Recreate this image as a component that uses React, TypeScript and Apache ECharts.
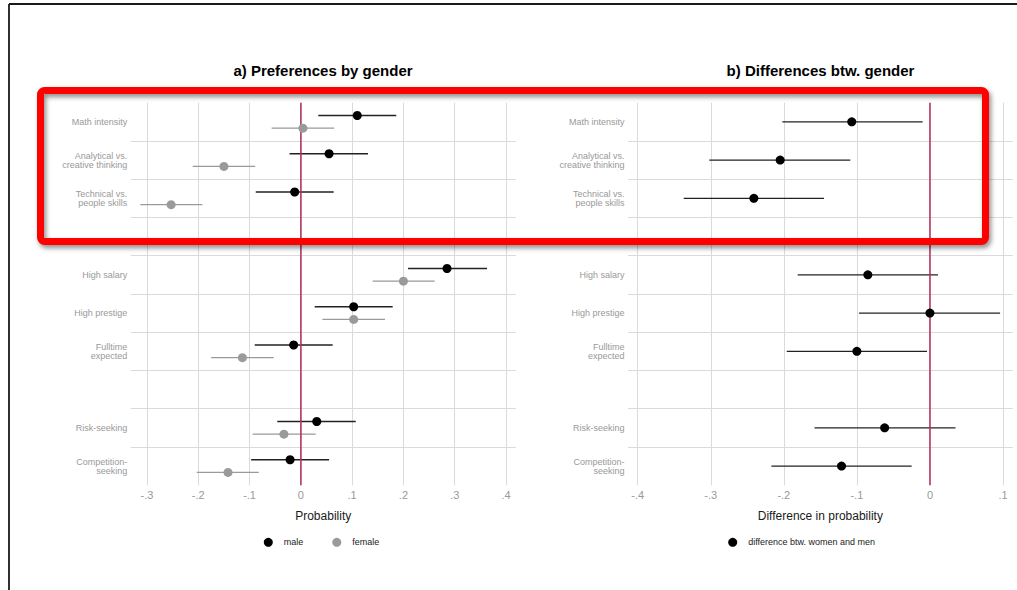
import React, { useEffect, useRef } from "react";
import * as echarts from "echarts";

const categories = [
  "Math intensity",
  "Analytical vs.\ncreative thinking",
  "Technical vs.\npeople skills",
  " ",
  "High salary",
  "High prestige",
  "Fulltime\nexpected",
  "  ",
  "Risk-seeking",
  "Competition-\nseeking",
];
const rowIndex = [0, 1, 2, 4, 5, 6, 8, 9];

const maleEst = [0.110, 0.055, -0.012, 0.285, 0.103, -0.014, 0.031, -0.021];
const maleLo = [0.034, -0.022, -0.088, 0.209, 0.027, -0.090, -0.046, -0.097];
const maleHi = [0.186, 0.131, 0.064, 0.363, 0.179, 0.062, 0.107, 0.055];

const femaleEst = [0.004, -0.150, -0.253, 0.200, 0.103, -0.114, -0.033, -0.142];
const femaleLo = [-0.057, -0.211, -0.313, 0.140, 0.042, -0.175, -0.094, -0.203];
const femaleHi = [0.065, -0.089, -0.192, 0.261, 0.164, -0.053, 0.029, -0.082];

const diffEst = [-0.107, -0.205, -0.241, -0.085, 0.000, -0.100, -0.062, -0.121];
const diffLo = [-0.202, -0.302, -0.337, -0.181, -0.097, -0.196, -0.158, -0.217];
const diffHi = [-0.010, -0.109, -0.145, 0.011, 0.096, -0.004, 0.035, -0.025];

const leftTicks = { min: -0.3, max: 0.4, interval: 0.1 };
const rightTicks = { min: -0.4, max: 0.1, interval: 0.1 };

const FONT = '"Liberation Sans", Arial, Helvetica, sans-serif';
const GRID_COLOR = "#dadada";
const LABEL_GRAY = "#999999";
const ZERO_COLOR = "#b3315d";
const MALE = "#000000";
const MALE_LINE = "#222222";
const FEMALE = "#9a9a9a";
const OFFSET = 0.165;

const fmt = (v: number) => {
  const n = Math.round(v * 10);
  if (n === 0) return "0";
  return (n < 0 ? "-" : "") + "." + Math.abs(n);
};

function ciSeries(name: string, lo: number[], hi: number[], off: number, color: string, xi: number, yi: number) {
  return {
    name,
    type: "custom",
    xAxisIndex: xi,
    yAxisIndex: yi,
    z: 2,
    silent: true,
    encode: { x: [0, 1], y: 2 },
    data: lo.map((l, i) => [l, hi[i], rowIndex[i] + 0.5 + off]),
    renderItem: (params: any, api: any) => {
      const y = api.value(2);
      const a = api.coord([api.value(0), y]);
      const b = api.coord([api.value(1), y]);
      return {
        type: "line",
        shape: { x1: a[0], y1: a[1], x2: b[0], y2: b[1] },
        style: { stroke: color, lineWidth: 1.4 },
      };
    },
  };
}

function dotSeries(name: string, est: number[], off: number, color: string, xi: number, yi: number) {
  return {
    name,
    type: "scatter",
    xAxisIndex: xi,
    yAxisIndex: yi,
    z: 4,
    silent: true,
    symbol: "circle",
    symbolSize: 9,
    itemStyle: { color, opacity: 1 },
    data: est.map((e, i) => [e, rowIndex[i] + 0.5 + off]),
  };
}

function zeroSeries(name: string, xi: number, yi: number) {
  return {
    name,
    type: "line",
    xAxisIndex: xi,
    yAxisIndex: yi,
    z: 3,
    silent: true,
    showSymbol: false,
    symbol: "none",
    lineStyle: { color: ZERO_COLOR, width: 1.5 },
    data: [
      [0, 0],
      [0, categories.length],
    ],
  };
}

const TOP = 102.7;
const HEIGHT = 382.5;

export default function App() {
  const ref = useRef<HTMLDivElement>(null);
  useEffect(() => {
    if (!ref.current) return;
    const chart = echarts.init(ref.current, undefined, { renderer: "svg" });

    const wideY = (gi: number) => ({
      type: "category",
      gridIndex: gi,
      data: categories,
      inverse: true,
      boundaryGap: true,
      axisLine: { show: false },
      axisTick: { show: false },
      axisLabel: {
        color: LABEL_GRAY,
        fontSize: 9,
        lineHeight: 9,
        fontFamily: FONT,
        margin: 3.5,
        align: "right",
      },
      splitLine: {
        show: true,
        showMinLine: false,
        showMaxLine: false,
        lineStyle: { color: GRID_COLOR, width: 1 },
      },
    });
    const wideX = (gi: number, name: string) => ({
      type: "value",
      gridIndex: gi,
      min: 0,
      max: 1,
      axisLine: { show: false },
      axisTick: { show: false },
      axisLabel: { show: false },
      splitLine: { show: false },
      name,
      nameLocation: "middle",
      nameGap: 25,
      nameTextStyle: { fontSize: 12, color: "#1a1a1a", fontFamily: FONT },
    });
    const narrowX = (gi: number, t: { min: number; max: number; interval: number }) => ({
      type: "value",
      gridIndex: gi,
      min: t.min,
      max: t.max,
      interval: t.interval,
      axisLine: { show: false },
      axisTick: { show: false },
      axisLabel: {
        color: LABEL_GRAY,
        fontSize: 11,
        fontFamily: FONT,
        margin: 4,
        formatter: (v: number) => fmt(v),
      },
      splitLine: { show: true, lineStyle: { color: GRID_COLOR, width: 1 } },
    });
    const narrowY = (gi: number) => ({
      type: "value",
      gridIndex: gi,
      min: 0,
      max: categories.length,
      inverse: true,
      show: false,
      splitLine: { show: false },
    });

    const option: any = {
      animation: false,
      backgroundColor: "#ffffff",
      textStyle: { fontFamily: FONT },
      grid: [
        { left: 130.7, width: 385, top: TOP, height: HEIGHT },
        { left: 147, width: 359, top: TOP, height: HEIGHT },
        { left: 628, width: 384.7, top: TOP, height: HEIGHT },
        { left: 637.7, width: 365.3, top: TOP, height: HEIGHT },
      ],
      xAxis: [
        wideX(0, "Probability"),
        narrowX(1, leftTicks),
        wideX(2, "Difference in probability"),
        narrowX(3, rightTicks),
      ],
      yAxis: [wideY(0), narrowY(1), wideY(2), narrowY(3)],
      legend: [
        {
          data: ["male", "female"],
          left: 263.8,
          top: 537.8,
          padding: 0,
          itemWidth: 21,
          itemHeight: 9,
          itemGap: 29,
          icon: "circle",
          selectedMode: false,
          textStyle: { fontSize: 9, color: "#222", fontFamily: FONT },
        },
        {
          data: ["difference btw. women and men"],
          left: 728.2,
          top: 537.8,
          padding: 0,
          itemWidth: 21,
          itemHeight: 9,
          icon: "circle",
          selectedMode: false,
          textStyle: { fontSize: 9, color: "#222", fontFamily: FONT },
        },
      ],
      series: [
        zeroSeries("zero-a", 1, 1),
        ciSeries("male CI", maleLo, maleHi, -OFFSET, MALE_LINE, 1, 1),
        ciSeries("female CI", femaleLo, femaleHi, OFFSET, FEMALE, 1, 1),
        dotSeries("male", maleEst, -OFFSET, MALE, 1, 1),
        dotSeries("female", femaleEst, OFFSET, FEMALE, 1, 1),
        zeroSeries("zero-b", 3, 3),
        ciSeries("difference CI", diffLo, diffHi, 0, MALE_LINE, 3, 3),
        dotSeries("difference btw. women and men", diffEst, 0, MALE, 3, 3),
      ],
      graphic: [
        {
          type: "line",
          z: 200,
          silent: true,
          shape: { x1: 9, y1: 4, x2: 1017, y2: 4 },
          style: { stroke: "#1a1a1a", lineWidth: 1.8 },
        },
        {
          type: "line",
          z: 200,
          silent: true,
          shape: { x1: 9, y1: 4, x2: 9, y2: 590 },
          style: { stroke: "#1a1a1a", lineWidth: 1.8 },
        },
        {
          type: "text",
          z: 100,
          x: 323,
          y: 70.7,
          silent: true,
          style: {
            text: "a) Preferences by gender",
            font: `bold 15px ${FONT}`,
            fill: "#000",
            align: "center",
            verticalAlign: "middle",
          },
        },
        {
          type: "text",
          z: 100,
          x: 820.5,
          y: 70.7,
          silent: true,
          style: {
            text: "b) Differences btw. gender",
            font: `bold 15px ${FONT}`,
            fill: "#000",
            align: "center",
            verticalAlign: "middle",
          },
        },
        {
          type: "rect",
          z: 300,
          silent: true,
          shape: { x: 40.5, y: 90.5, width: 945, height: 151, r: 4 },
          style: {
            fill: "none",
            stroke: "#ff0000",
            lineWidth: 7,
            shadowBlur: 5,
            shadowOffsetX: 2,
            shadowOffsetY: 3,
            shadowColor: "rgba(0,0,0,0.45)",
          },
        },
      ],
    };

    chart.setOption(option);
    return () => chart.dispose();
  }, []);

  return (
    <div
      ref={ref}
      style={{ position: "absolute", left: 0, top: 0, width: 1017, height: 590 }}
    />
  );
}
